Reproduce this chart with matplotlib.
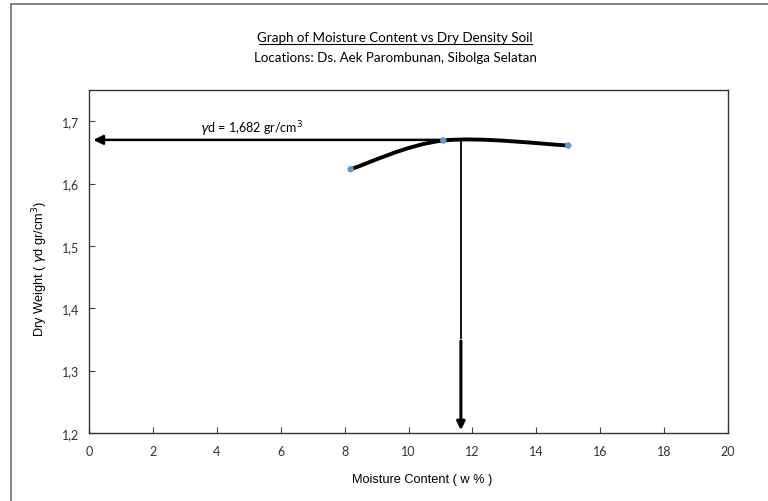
import matplotlib
matplotlib.use("Agg")
import matplotlib.pyplot as plt
from matplotlib.path import Path
from matplotlib.patches import PathPatch, Rectangle
import numpy as np

# Data
moisture = [8.19, 11.09, 15.0]
dry_density = [1.623, 1.669, 1.661]
w_opt = 11.64
gd_max = 1.670
x_ticks = [0, 2, 4, 6, 8, 10, 12, 14, 16, 18, 20]
y_ticks = [1.2, 1.3, 1.4, 1.5, 1.6, 1.7]
y_tick_labels = ["1,2", "1,3", "1,4", "1,5", "1,6", "1,7"]
title1 = "Graph of Moisture Content vs Dry Density Soil"
title2 = "Locations: Ds. Aek Parombunan, Sibolga Selatan"
annot = r"$\gamma$d = 1,682 gr/cm$^3$"

fig = plt.figure(figsize=(7.68, 5.02), dpi=100)
W, H = 768, 502
ax = fig.add_axes([89 / W, 1 - 434 / H, (728 - 89) / W, (434 - 91) / H])

# outer chart border
fig.patches.append(Rectangle((11 / W, -0.1), 1.2, (1 - 5 / H) + 0.1, transform=fig.transFigure,
                             fill=False, edgecolor="#6e6e6e", linewidth=1.2))

ax.set_xlim(0, 20)
ax.set_ylim(1.2, 1.75)
ax.set_xticks(x_ticks)
ax.set_yticks(y_ticks)
ax.set_yticklabels(y_tick_labels)
for lab in ax.get_xticklabels() + ax.get_yticklabels():
    lab.set_fontfamily("Lato")
    lab.set_fontsize(9)
    lab.set_color("#333333")
ax.tick_params(axis="x", direction="in", length=4, width=0.8, color="#444444", pad=9)
ax.tick_params(axis="y", direction="in", length=4, width=0.8, color="#444444", pad=7)
for s in ax.spines.values():
    s.set_color("#333333")
    s.set_linewidth(1.0)

# smoothed line (Excel-like Catmull-Rom Bezier)
pts = np.column_stack([moisture, dry_density])
verts = [tuple(pts[0])]
codes = [Path.MOVETO]
n = len(pts)
for i in range(n - 1):
    p0 = pts[max(i - 1, 0)]
    p1 = pts[i]
    p2 = pts[i + 1]
    p3 = pts[min(i + 2, n - 1)]
    c1 = p1 + (p2 - p0) / 6
    c2 = p2 - (p3 - p1) / 6
    verts += [tuple(c1), tuple(c2), tuple(p2)]
    codes += [Path.CURVE4] * 3
ax.add_patch(PathPatch(Path(verts, codes), facecolor="none", edgecolor="black", linewidth=2.8, zorder=3))
ax.scatter(moisture, dry_density, s=22, color="#5b9bd5", zorder=4, edgecolor="none")

# horizontal arrow
ax.annotate("", xy=(0.05, gd_max), xytext=(w_opt, gd_max),
            arrowprops=dict(arrowstyle="-|>", color="black", lw=1.8, mutation_scale=14), zorder=2)
# vertical line + arrow
ax.plot([w_opt, w_opt], [gd_max, 1.352], color="black", lw=1.3, zorder=2)
ax.annotate("", xy=(w_opt, 1.2), xytext=(w_opt, 1.352),
            arrowprops=dict(arrowstyle="-|>", color="black", lw=2.2, mutation_scale=12), zorder=2)

ax.text(5.1, 1.689, annot, ha="center", va="center", fontsize=9, family="Lato")

# titles
fig.text(395 / W, 1 - 38 / H, title1, ha="center", va="center", fontsize=9.6, family="Lato")
fig.add_artist(plt.Line2D([259 / W, 532 / W], [1 - 45 / H, 1 - 45 / H], transform=fig.transFigure,
                          color="black", lw=0.8))
fig.text(395 / W, 1 - 58 / H, title2, ha="center", va="center", fontsize=9.6, family="Lato")

ax.set_xlabel("Moisture Content ( w % )", fontsize=9.2, family="Liberation Sans")
ax.xaxis.set_label_coords((422 - 89) / (728 - 89), -(480 - 434) / (434 - 91))
ax.xaxis.label.set_va("center")
ax.set_ylabel(r"Dry Weight ( $\gamma$d gr/cm$^3$)", fontsize=9.2, family="Liberation Sans")
ax.yaxis.set_label_coords(-(89 - 40) / (728 - 89), (434 - 269) / (434 - 91))
ax.yaxis.label.set_va("center")

fig.savefig("out.png", dpi=100)
